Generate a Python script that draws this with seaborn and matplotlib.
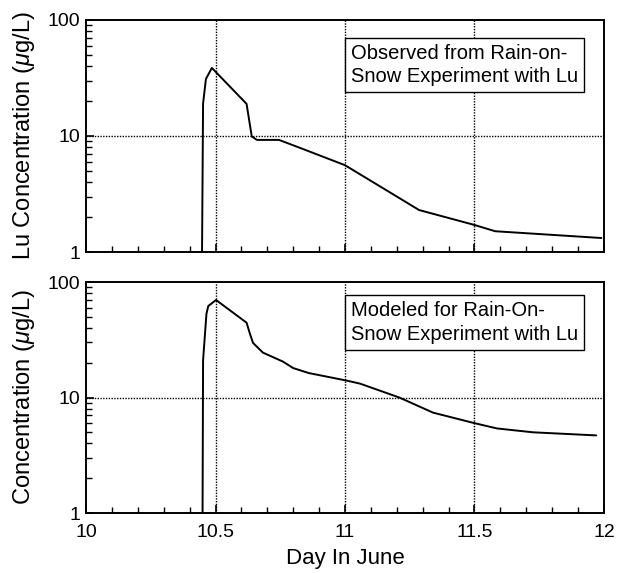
import numpy as np
import pandas as pd
import matplotlib
matplotlib.use("Agg")
import matplotlib.pyplot as plt
import seaborn as sns
from matplotlib.ticker import FixedLocator, MultipleLocator, NullFormatter, FixedFormatter

# Observed (top panel)
obs_day = [10.448, 10.452, 10.463, 10.486, 10.62, 10.64, 10.66, 10.745, 10.826, 11.0, 11.286, 11.5, 11.58, 11.99]
obs_conc = [1.0, 19.0, 31.0, 38.6, 18.9, 9.9, 9.25, 9.25, 7.9, 5.6, 2.3, 1.71, 1.51, 1.32]

# Modeled (bottom panel)
mod_day = [10.45, 10.452, 10.465, 10.472, 10.502, 10.62, 10.633, 10.645, 10.683, 10.76, 10.8, 10.86,
           11.008, 11.058, 11.21, 11.34, 11.5, 11.587, 11.726, 11.97]
mod_conc = [1.0, 21.0, 53.0, 62.0, 70.0, 44.5, 35.6, 29.7, 24.5, 20.5, 18.0, 16.3,
            14.0, 13.2, 10.0, 7.4, 6.0, 5.4, 5.0, 4.7]

x_ticks = [10, 10.5, 11, 11.5, 12]
x_ticklabels = ["10", "10.5", "11", "11.5", "12"]
y_ticks = [1, 10, 100]
y_ticklabels = ["1", "10", "100"]

sns.set_theme(style="white")
plt.rcParams['font.family'] = ['Liberation Sans', 'DejaVu Sans']
plt.rcParams['mathtext.fontset'] = 'custom'
plt.rcParams['mathtext.it'] = 'Liberation Sans:italic'
plt.rcParams['mathtext.rm'] = 'Liberation Sans'

fig = plt.figure(figsize=(6.17, 5.73), dpi=100)
ax1 = fig.add_axes([0.1394, 0.5602, 0.8395, 0.405])
ax2 = fig.add_axes([0.1394, 0.1047, 0.8395, 0.403])

df_obs = pd.DataFrame({"day": obs_day, "conc": obs_conc})
df_mod = pd.DataFrame({"day": mod_day, "conc": mod_conc})

sns.lineplot(data=df_obs, x="day", y="conc", ax=ax1, sort=False, estimator=None, color="black", lw=1.4)
sns.lineplot(data=df_mod, x="day", y="conc", ax=ax2, sort=False, estimator=None, color="black", lw=1.4)

for ax, label, text, ty in [
    (ax1, "Lu Concentration ($\\mu$g/L)", "Observed from Rain-on-\nSnow Experiment with Lu", 0.897),
    (ax2, "Concentration ($\\mu$g/L)", "Modeled for Rain-On-\nSnow Experiment with Lu", 0.918),
]:
    ax.set_yscale("log")
    ax.set_xlim(10, 12)
    ax.set_ylim(1, 100)
    ax.yaxis.set_major_locator(FixedLocator(y_ticks))
    ax.yaxis.set_major_formatter(FixedFormatter(y_ticklabels))
    ax.yaxis.set_minor_locator(FixedLocator([2, 3, 4, 5, 6, 7, 8, 9, 20, 30, 40, 50, 60, 70, 80, 90]))
    ax.yaxis.set_minor_formatter(NullFormatter())
    ax.xaxis.set_major_locator(FixedLocator(x_ticks))
    ax.xaxis.set_minor_locator(MultipleLocator(0.1))
    ax.tick_params(which="both", direction="in", bottom=True, left=True, top=False, right=False,
                   color="black", labelsize=14, labelcolor="black")
    ax.tick_params(which="major", length=6, width=1.2, pad=4)
    ax.tick_params(which="minor", length=4, width=1.0)
    ax.tick_params(axis="x", which="major", pad=8)
    for xv in [10.5, 11, 11.5]:
        ax.axvline(xv, color="black", ls=(0, (1, 1)), lw=1.0, zorder=0)
    ax.axhline(10, color="black", ls=(0, (1, 1)), lw=1.0, zorder=0)
    for s in ax.spines.values():
        s.set_color("black")
        s.set_linewidth(1.4)
    ax.set_ylabel(label, fontsize=17, color="black")
    ax.set_xlabel("")
    ax.text(0.512, ty, text, transform=ax.transAxes, ha="left", va="top", fontsize=14.5,
            color="black", linespacing=1.3,
            bbox=dict(boxstyle="square,pad=0.3", fc="white", ec="black", lw=1.0))
    ax.yaxis.set_label_coords(-0.095, 0.5)

ax1.set_xticklabels([])
ax2.set_xticklabels(x_ticklabels)
ax2.set_xlabel("Day In June", fontsize=16, color="black", labelpad=5)

fig.savefig("out.png", dpi=100)
